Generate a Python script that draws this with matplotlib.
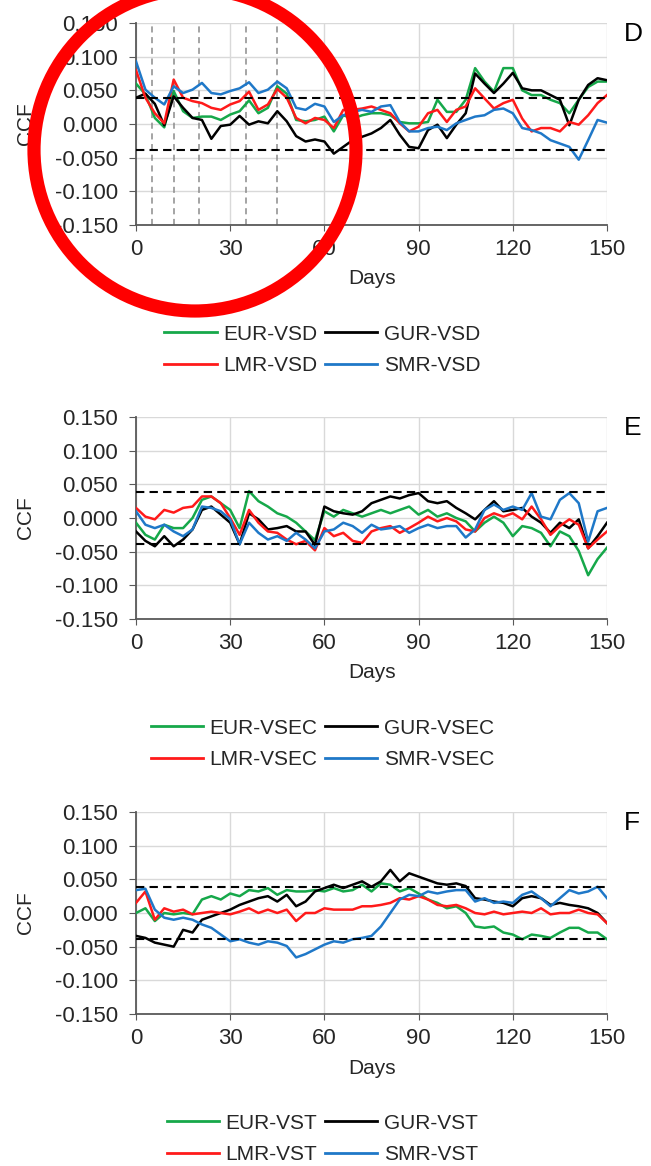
import numpy as np
import matplotlib
matplotlib.use("Agg")
import matplotlib.pyplot as plt
from matplotlib.patches import Ellipse
from matplotlib.lines import Line2D

plt.rcParams['font.family'] = ['Liberation Sans', 'DejaVu Sans']

days = np.arange(0, 151, 3)

# panel D (VSD)
eur_vsd = [0.060, 0.044, 0.009, -0.005, 0.049, 0.019, 0.009, 0.011, 0.011, 0.006, 0.014, 0.019, 0.035,
           0.016, 0.024, 0.056, 0.045, 0.006, 0.004, 0.006, 0.011, -0.011, 0.013, 0.008, 0.013, 0.016,
           0.016, 0.013, 0.003, 0.001, 0.001, 0.003, 0.036, 0.018, 0.018, 0.036, 0.083, 0.063, 0.048,
           0.083, 0.083, 0.050, 0.043, 0.043, 0.036, 0.031, 0.016, 0.036, 0.055, 0.063, 0.063]
gur_vsd = [0.039, 0.045, 0.030, -0.002, 0.041, 0.024, 0.009, 0.006, -0.022, -0.003, -0.001, 0.012, -0.001,
           0.004, 0.001, 0.019, 0.004, -0.018, -0.026, -0.023, -0.026, -0.044, -0.034, -0.024, -0.019, -0.014,
           -0.006, 0.006, -0.016, -0.034, -0.036, -0.009, -0.001, -0.021, -0.001, 0.016, 0.075, 0.060, 0.046,
           0.060, 0.076, 0.053, 0.050, 0.050, 0.043, 0.036, -0.002, 0.036, 0.058, 0.068, 0.065]
lmr_vsd = [0.080, 0.039, 0.016, 0.001, 0.066, 0.039, 0.034, 0.031, 0.024, 0.021, 0.029, 0.034, 0.048,
           0.021, 0.029, 0.052, 0.039, 0.009, 0.001, 0.009, 0.006, -0.006, 0.021, 0.021, 0.023, 0.026,
           0.021, 0.016, 0.001, -0.011, -0.004, 0.016, 0.021, 0.003, 0.021, 0.026, 0.053, 0.038, 0.023,
           0.031, 0.036, 0.008, -0.011, -0.006, -0.006, -0.011, 0.003, -0.001, 0.013, 0.031, 0.043]
smr_vsd = [0.093, 0.051, 0.039, 0.029, 0.056, 0.046, 0.051, 0.061, 0.046, 0.044, 0.049, 0.053, 0.062,
           0.046, 0.051, 0.063, 0.053, 0.024, 0.021, 0.030, 0.026, 0.003, 0.013, 0.018, 0.021, 0.018,
           0.026, 0.028, 0.003, -0.011, -0.011, -0.006, -0.004, -0.009, 0.001, 0.006, 0.011, 0.013, 0.021,
           0.023, 0.016, -0.006, -0.009, -0.014, -0.024, -0.029, -0.034, -0.053, -0.024, 0.006, 0.002]

# panel E (VSEC)
eur_vsec = [-0.007, -0.025, -0.032, -0.010, -0.015, -0.015, 0.000, 0.027, 0.032, 0.022, 0.012, -0.015, 0.040,
            0.025, 0.017, 0.007, 0.002, -0.007, -0.020, -0.033, 0.010, 0.002, 0.012, 0.007, 0.002, 0.007,
            0.012, 0.007, 0.012, 0.017, 0.005, 0.012, 0.002, 0.007, 0.000, -0.005, -0.020, -0.007, 0.002,
            -0.007, -0.027, -0.012, -0.015, -0.022, -0.042, -0.020, -0.027, -0.049, -0.085, -0.061, -0.044]
gur_vsec = [-0.020, -0.034, -0.042, -0.027, -0.042, -0.032, -0.017, 0.012, 0.017, 0.005, -0.007, -0.039, 0.007,
            -0.002, -0.017, -0.015, -0.012, -0.020, -0.020, -0.040, 0.017, 0.010, 0.007, 0.005, 0.010, 0.022,
            0.027, 0.032, 0.029, 0.034, 0.037, 0.025, 0.022, 0.025, 0.015, 0.007, -0.002, 0.012, 0.025,
            0.010, 0.012, 0.015, 0.002, -0.007, -0.022, -0.007, -0.015, -0.002, -0.045, -0.027, -0.007]
lmr_vsec = [0.015, 0.002, -0.002, 0.012, 0.008, 0.015, 0.017, 0.032, 0.032, 0.022, 0.000, -0.025, 0.012,
            -0.007, -0.020, -0.022, -0.032, -0.039, -0.034, -0.048, -0.015, -0.027, -0.022, -0.034, -0.037, -0.020,
            -0.015, -0.012, -0.022, -0.015, -0.007, 0.002, -0.005, 0.000, -0.005, -0.017, -0.020, 0.000, 0.007,
            0.002, 0.007, -0.002, 0.017, -0.002, -0.025, -0.012, -0.002, -0.010, -0.045, -0.032, -0.020]
smr_vsec = [0.010, -0.010, -0.015, -0.010, -0.020, -0.027, -0.017, 0.017, 0.015, 0.010, -0.002, -0.039, -0.007,
            -0.022, -0.032, -0.027, -0.034, -0.022, -0.032, -0.045, -0.020, -0.017, -0.007, -0.012, -0.022, -0.010,
            -0.017, -0.015, -0.012, -0.022, -0.015, -0.010, -0.015, -0.012, -0.012, -0.029, -0.017, 0.012, 0.020,
            0.012, 0.017, 0.012, 0.037, 0.002, -0.002, 0.027, 0.037, 0.022, -0.035, 0.010, 0.015]

# panel F (VST)
eur_vst = [0.000, 0.007, -0.012, 0.000, -0.002, 0.000, -0.002, 0.020, 0.025, 0.020, 0.029, 0.025, 0.034,
           0.032, 0.037, 0.027, 0.034, 0.032, 0.032, 0.034, 0.032, 0.037, 0.032, 0.034, 0.042, 0.032,
           0.044, 0.042, 0.032, 0.037, 0.029, 0.020, 0.015, 0.007, 0.010, 0.000, -0.020, -0.022, -0.020,
           -0.029, -0.032, -0.039, -0.032, -0.034, -0.037, -0.029, -0.022, -0.022, -0.029, -0.029, -0.039]
gur_vst = [-0.034, -0.037, -0.044, -0.047, -0.050, -0.025, -0.029, -0.010, -0.005, 0.000, 0.005, 0.012, 0.017,
           0.022, 0.025, 0.017, 0.027, 0.010, 0.017, 0.032, 0.037, 0.042, 0.037, 0.042, 0.047, 0.039,
           0.047, 0.064, 0.047, 0.059, 0.054, 0.049, 0.044, 0.042, 0.044, 0.040, 0.022, 0.020, 0.017,
           0.015, 0.010, 0.022, 0.025, 0.022, 0.012, 0.015, 0.012, 0.010, 0.007, 0.000, -0.015]
lmr_vst = [0.015, 0.032, -0.010, 0.007, 0.002, 0.005, -0.002, 0.000, 0.002, 0.000, -0.002, 0.002, 0.007,
           0.000, 0.005, 0.000, 0.005, -0.012, 0.000, 0.000, 0.007, 0.005, 0.005, 0.005, 0.010, 0.010,
           0.012, 0.015, 0.022, 0.020, 0.025, 0.020, 0.012, 0.010, 0.012, 0.007, 0.000, -0.002, 0.002,
           -0.002, 0.000, 0.002, 0.000, 0.007, -0.002, 0.000, 0.000, 0.005, 0.000, -0.002, -0.015]
smr_vst = [0.034, 0.036, 0.005, -0.007, -0.010, -0.007, -0.010, -0.017, -0.022, -0.032, -0.042, -0.039, -0.044,
           -0.047, -0.042, -0.044, -0.049, -0.066, -0.061, -0.054, -0.047, -0.042, -0.044, -0.039, -0.037, -0.034,
           -0.020, 0.000, 0.020, 0.027, 0.025, 0.032, 0.029, 0.032, 0.034, 0.034, 0.017, 0.022, 0.015,
           0.017, 0.015, 0.027, 0.032, 0.022, 0.010, 0.022, 0.034, 0.029, 0.032, 0.039, 0.022]

groups = ["EUR", "GUR", "LMR", "SMR"]
colors = ["#16a84a", "#000000", "#ff1a1a", "#1f78c8"]
panels = [("D", "VSD", [eur_vsd, gur_vsd, lmr_vsd, smr_vsd]),
          ("E", "VSEC", [eur_vsec, gur_vsec, lmr_vsec, smr_vsec]),
          ("F", "VST", [eur_vst, gur_vst, lmr_vst, smr_vst])]
limit = 0.039                      # confidence band
marked_days = [5, 12, 20, 35, 45]  # gray dashed lines in panel D

W, H = 651, 1166
fig = plt.figure(figsize=(W / 100, H / 100), dpi=100)

tops = [23, 417, 812]
for k, (letter, var, series) in enumerate(panels):
    top = tops[k]
    ax = fig.add_axes([136 / W, 1 - (top + 202) / H, 471 / W, 202 / H])
    ax.set_xlim(0, 150)
    ax.set_ylim(-0.15, 0.15)
    ax.set_xticks(np.arange(0, 151, 30))
    yt = np.arange(-0.15, 0.151, 0.05)
    ax.set_yticks(yt)
    ax.set_yticklabels(["{:.3f}".format(v + 0.0) for v in yt])
    ax.grid(True, color="#d9d9d9", linewidth=1)
    ax.set_axisbelow(True)
    for s in ["top", "right"]:
        ax.spines[s].set_visible(False)
    for s in ["left", "bottom"]:
        ax.spines[s].set_color("#595959")
        ax.spines[s].set_linewidth(1.3)
    ax.tick_params(axis="y", length=5, color="#595959", labelsize=16, pad=8, labelcolor="#262626")
    ax.tick_params(axis="x", length=4, color="#595959", labelsize=16, pad=6, labelcolor="#262626")

    if letter == "D":
        for d in marked_days:
            ax.axvline(d, color="#8c8c8c", linewidth=1.1, linestyle=(0, (4, 3)), zorder=1)

    for vals, c in zip(series, colors):
        ax.plot(days, vals, color=c, linewidth=1.8, zorder=3)
    ax.axhline(limit, color="black", linewidth=1.5, linestyle=(0, (4, 2.5)), zorder=4)
    ax.axhline(-limit, color="black", linewidth=1.5, linestyle=(0, (4, 2.5)), zorder=4)

    fig.text(26 / W, 1 - (top + 101) / H, "CCF", rotation=90, ha="center", va="center",
             fontsize=15, color="#262626")
    fig.text(372 / W, 1 - (top + 256) / H, "Days", ha="center", va="center",
             fontsize=15, color="#262626")
    fig.text(624 / W, 1 - (top + 11) / H, letter, ha="left", va="center", fontsize=19)

    # legend fills column-wise: order so rows read EUR, GUR / LMR, SMR
    order = [0, 2, 1, 3]
    handles = [Line2D([], [], color=colors[i], linewidth=2) for i in order]
    labels = ["{}-{}".format(groups[i], var) for i in order]
    fig.legend(handles, labels, loc="center", bbox_to_anchor=(0.495, 1 - (top + 327) / H),
               ncol=2, frameon=False, fontsize=15, handlelength=2.5, handletextpad=0.3,
               columnspacing=0.4, labelspacing=0.6, labelcolor="#262626")

# red circle drawn over panel D
circ = Ellipse((195 / W, 1 - 150 / H), 322 / W, 322 / H, transform=fig.transFigure,
               fill=False, edgecolor="red", linewidth=9.5, zorder=10)
fig.add_artist(circ)

fig.savefig("out.png", dpi=100)
